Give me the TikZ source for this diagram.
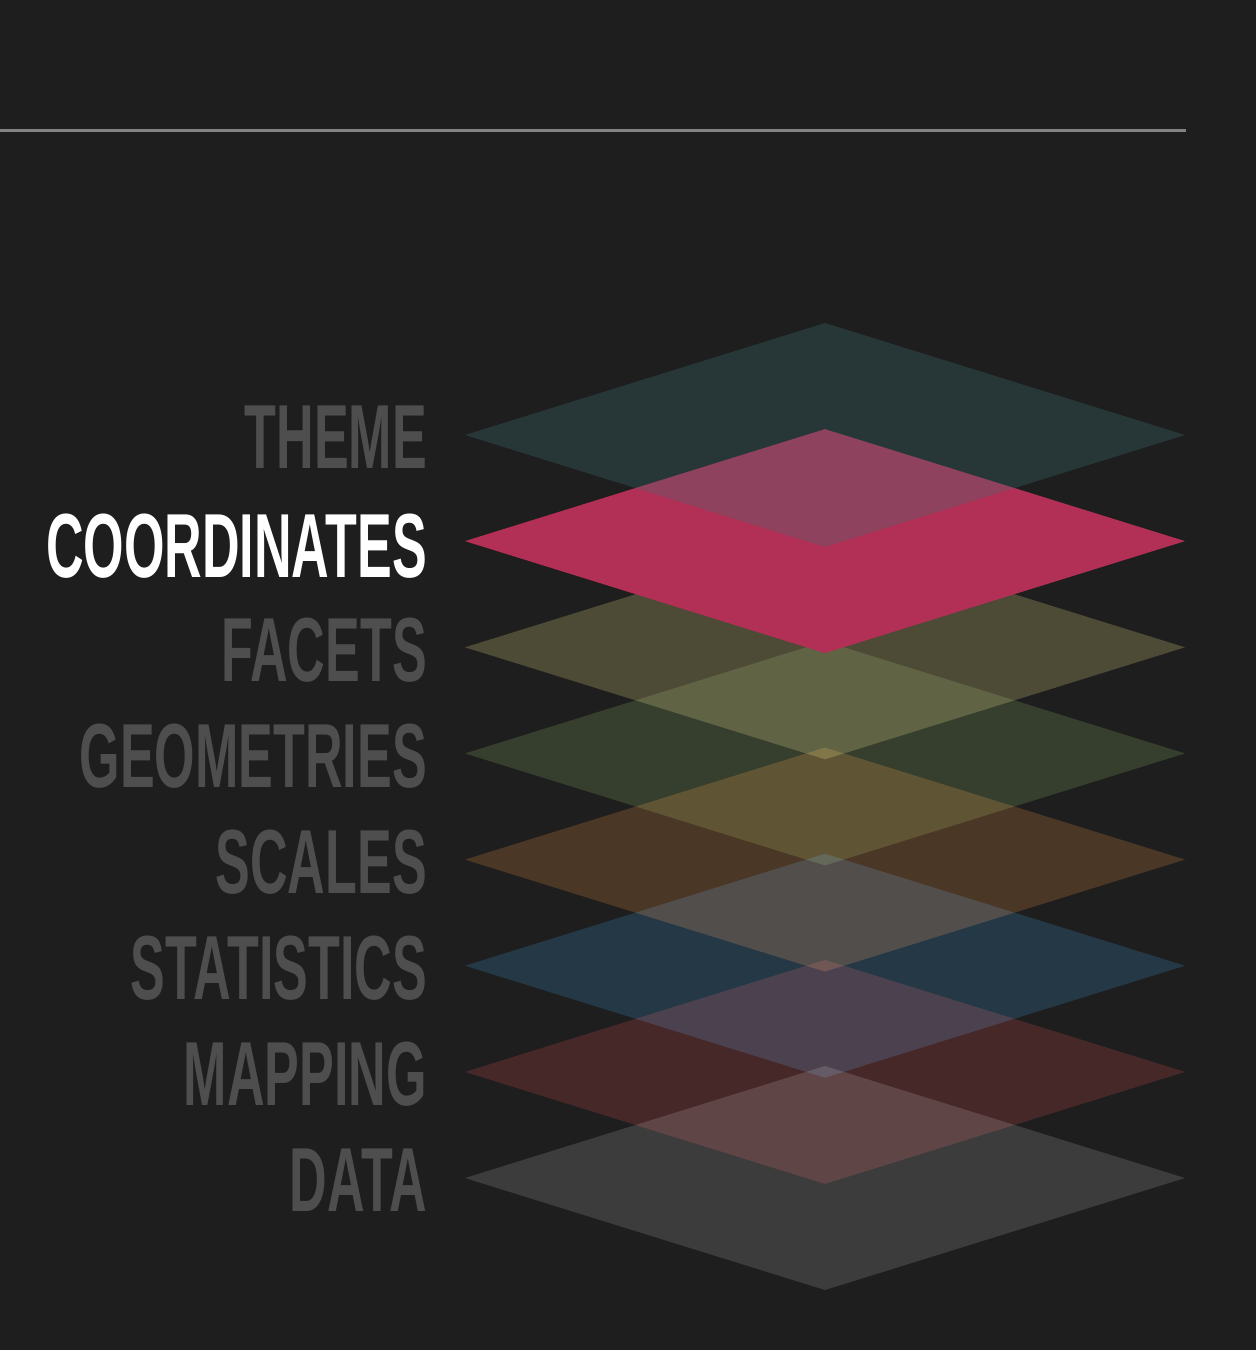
\documentclass[tikz,border=0pt]{standalone}
\usepackage{fontspec}
\setmainfont{Liberation Sans}

% page and text colours
\definecolor{bg}{HTML}{1E1E1E}
\definecolor{rule}{HTML}{838383}
\definecolor{dimtext}{HTML}{4E4E4E}
% plane colours (dim planes are screen-blended over the page)
\definecolor{dataL}{RGB}{34,34,34}
\definecolor{mappingL}{RGB}{45,11,12}
\definecolor{statsL}{RGB}{7,29,44}
\definecolor{scalesL}{RGB}{51,28,9}
\definecolor{geomL}{RGB}{27,37,16}
\definecolor{facetsL}{RGB}{53,49,27}
\definecolor{coordL}{RGB}{178,47,85}
\definecolor{themeL}{RGB}{63,110,113}

\newcommand\narrowcaps[1]{\scalebox{0.572}[1]{#1}}

\tikzset{
  plane/.style={blend mode=screen},
  activeplane/.style={},
  glassplane/.style={fill opacity=0.3},
  lbl/.style={anchor=base east, inner sep=0pt,
    font=\fontsize{91}{91}\selectfont\bfseries, text=dimtext},
  activelbl/.style={lbl, text=white},
}

\begin{document}
\begin{tikzpicture}[x=1pt,y=-1pt]
  \fill[bg] (0,0) rectangle (1256,1350);
  \useasboundingbox (0,0) rectangle (1256,1350);

  % rule across the top
  \coordinate (ruleL) at (0,130.5);
  \coordinate (ruleR) at (1186,130.5);
  \draw[rule, line width=2.4pt] (ruleL) -- (ruleR);

  % stacked planes, bottom to top
  \foreach \c/\y in {dataL/1178, mappingL/1071.9, statsL/965.7,
                     scalesL/859.6, geomL/753.4, facetsL/647.3}{
    \fill[plane, fill=\c] (465,\y) -- (825,\y-112) -- (1185,\y) -- (825,\y+112) -- cycle;
  }
  \fill[activeplane, fill=coordL] (465,541.1) -- (825,429.1) -- (1185,541.1) -- (825,653.1) -- cycle;
  \fill[glassplane, fill=themeL] (465,435) -- (825,323) -- (1185,435) -- (825,547) -- cycle;

  % layer names
  \node[lbl]       (theme)  at (427,468.5)  {\narrowcaps{THEME}};
  \node[activelbl] (coord)  at (427,577)    {\narrowcaps{COORDINATES}};
  \node[lbl]       (facets) at (427,681)    {\narrowcaps{FACETS}};
  \node[lbl]       (geoms)  at (427,787)    {\narrowcaps{GEOMETRIES}};
  \node[lbl]       (scales) at (427,893)    {\narrowcaps{SCALES}};
  \node[lbl]       (stats)  at (427,999.2)  {\narrowcaps{STATISTICS}};
  \node[lbl]       (mapping) at (427,1105.4) {\narrowcaps{MAPPING}};
  \node[lbl]       (data)   at (427,1211.5) {\narrowcaps{DATA}};
\end{tikzpicture}
\end{document}
